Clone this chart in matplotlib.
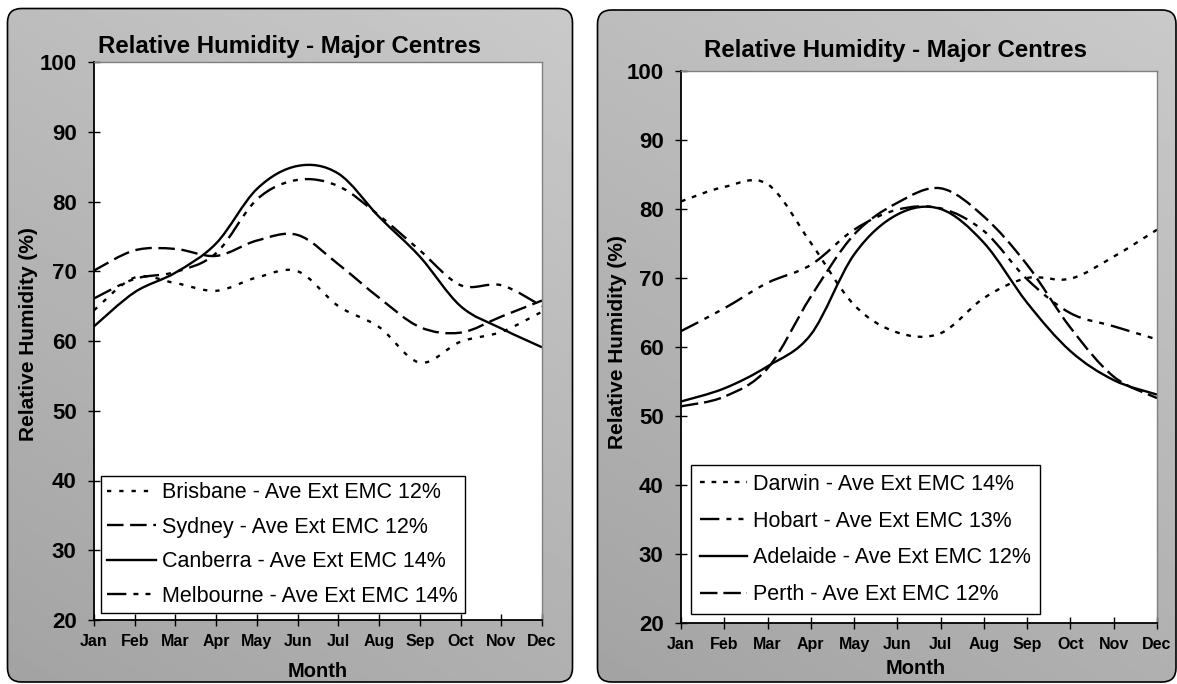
import numpy as np
import matplotlib
matplotlib.use('Agg')
import matplotlib.pyplot as plt
from matplotlib.path import Path
from matplotlib.patches import PathPatch, FancyBboxPatch
from matplotlib.lines import Line2D

plt.rcParams['font.family'] = ['Liberation Sans', 'DejaVu Sans']

# ---------------- data ----------------
months = ['Jan', 'Feb', 'Mar', 'Apr', 'May', 'Jun',
          'Jul', 'Aug', 'Sep', 'Oct', 'Nov', 'Dec']
y_ticks = [20, 30, 40, 50, 60, 70, 80, 90, 100]

# left chart
brisbane = [64.4, 69.1, 68.3, 67.2, 69.1, 70.0, 65.0, 62.0, 56.9, 59.9, 61.3, 64.2]
sydney = [70.1, 73.0, 73.2, 72.2, 74.4, 75.2, 71.0, 66.2, 62.0, 61.2, 63.5, 65.8]
canberra = [62.1, 67.0, 69.8, 74.0, 81.8, 85.1, 84.0, 77.8, 72.1, 65.0, 61.8, 59.1]
melbourne = [66.1, 68.9, 69.9, 72.6, 80.3, 83.1, 82.2, 78.0, 73.0, 68.0, 68.0, 65.0]
left_labels = ['Brisbane - Ave Ext EMC 12%', 'Sydney - Ave Ext EMC 12%',
               'Canberra - Ave Ext EMC 14%', 'Melbourne - Ave Ext EMC 14%']

# right chart
darwin = [81.1, 83.2, 83.6, 75.1, 66.1, 62.1, 62.0, 67.1, 70.0, 69.9, 73.1, 77.0]
hobart = [62.3, 65.6, 69.3, 71.9, 77.0, 79.9, 80.1, 76.8, 69.8, 64.9, 63.0, 61.1]
adelaide = [52.1, 54.0, 57.2, 61.8, 73.4, 79.2, 80.0, 75.1, 66.4, 59.4, 55.2, 53.1]
perth = [51.4, 52.8, 56.9, 67.3, 76.3, 80.9, 83.0, 78.9, 71.9, 62.8, 55.7, 52.6]
right_labels = ['Darwin - Ave Ext EMC 14%', 'Hobart - Ave Ext EMC 13%',
                'Adelaide - Ave Ext EMC 12%', 'Perth - Ave Ext EMC 12%']

title_text = 'Relative Humidity - Major Centres'
xlabel_text = 'Month'
ylabel_text = 'Relative Humidity (%)'

# ---------------- styles ----------------
LW = 1.7
ls_dot = (0, (1.8, 3.4))
ls_dash = (0, (7.0, 2.8))
ls_dashdotdot = (0, (8.2, 3.0, 2.1, 3.0, 2.1, 3.0))
ls_solid = '-'
ls_dot_r = (0, (2.0, 2.9))
ls_dash_r = (0, (7.4, 2.5))

W, H = 1177, 684
fig = plt.figure(figsize=(W / 100, H / 100), dpi=100)
fig.patch.set_facecolor('white')

bg = fig.add_axes([0, 0, 1, 1])
bg.set_axis_off()


def panel(x0, y0, x1, y1):
    clip = FancyBboxPatch((x0, y0), x1 - x0, y1 - y0,
                          boxstyle='round,pad=0,rounding_size=14',
                          facecolor='none', edgecolor='none')
    bg.add_patch(clip)
    nx, ny = 200, 200
    u = np.linspace(0, 1, nx)[None, :]
    v = np.linspace(0, 1, ny)[:, None]
    g = 0.64 + 0.10 * (1 - v) + 0.05 * u
    im = bg.imshow(g, cmap='gray', vmin=0, vmax=1, extent=(x0, x1, y1, y0),
                   interpolation='bilinear', aspect='auto', origin='upper')
    im.set_clip_path(clip)
    border = FancyBboxPatch((x0, y0), x1 - x0, y1 - y0,
                            boxstyle='round,pad=0,rounding_size=14',
                            facecolor='none', edgecolor='black', lw=1.2)
    bg.add_patch(border)


panel(7.5, 8.5, 572.5, 682)
panel(597.5, 10, 1176, 682)
bg.set_xlim(0, W)
bg.set_ylim(H, 0)


def smooth_path(xs, ys):
    pts = np.column_stack([xs, ys]).astype(float)
    n = len(pts)
    verts = [pts[0]]
    codes = [Path.MOVETO]
    for i in range(n - 1):
        p0 = pts[i - 1] if i > 0 else pts[i]
        p1 = pts[i]
        p2 = pts[i + 1]
        p3 = pts[i + 2] if i + 2 < n else pts[i + 1]
        c1 = p1 + (p2 - p0) / 6.0
        c2 = p2 - (p3 - p1) / 6.0
        verts += [c1, c2, p2]
        codes += [Path.CURVE4] * 3
    return Path(verts, codes)


def make_chart(ax_rect, series, labels, styles, leg_anchor, leg_kw,
               title_xy, xlabel_xy, ylabel_xy):
    ax = fig.add_axes(ax_rect)
    ax.set_facecolor('white')
    x = np.arange(len(months))
    handles = []
    for vals, lab, ls in zip(series, labels, styles):
        p = PathPatch(smooth_path(x, vals), facecolor='none', edgecolor='black',
                      lw=LW, linestyle=ls, capstyle='butt', joinstyle='round')
        ax.add_patch(p)
        handles.append(Line2D([], [], color='black', lw=LW, linestyle=ls,
                              dash_capstyle='butt', label=lab))
    ax.set_xlim(0, len(months) - 1)
    ax.set_ylim(20, 100)
    ax.set_yticks(y_ticks)
    ax.set_yticklabels([str(t) for t in y_ticks], fontsize=16, fontweight='bold')
    ax.set_xticks(x)
    ax.set_xticklabels(months, fontsize=11.5, fontweight='bold')
    ax.tick_params(axis='y', direction='inout', length=9, width=1, pad=8)
    ax.tick_params(axis='x', direction='inout', length=8, width=1, pad=6)
    for s in ['left', 'bottom']:
        ax.spines[s].set_color('black')
        ax.spines[s].set_linewidth(1.3)
    for s in ['top', 'right']:
        ax.spines[s].set_color('#808080')
        ax.spines[s].set_linewidth(1.0)
    ax.set_xlabel(xlabel_text, fontsize=14.5, fontweight='bold', va='center')
    ax.xaxis.set_label_coords(*xlabel_xy)
    ax.set_ylabel(ylabel_text, fontsize=15, fontweight='bold', va='center')
    ax.yaxis.set_label_coords(*ylabel_xy)
    fig.text(title_xy[0] / W, 1 - title_xy[1] / H, title_text, fontsize=17.3,
             fontweight='bold', ha='center', va='center')
    leg = ax.legend(handles=handles, loc='lower left',
                    bbox_to_anchor=leg_anchor, bbox_transform=fig.transFigure,
                    borderaxespad=0, fancybox=False, framealpha=1,
                    edgecolor='black', fontsize=15.5, handletextpad=0.3,
                    **leg_kw)
    leg.get_frame().set_linewidth(1.0)
    return ax


make_chart([94 / W, (H - 620) / H, 448 / W, 558 / H],
           [brisbane, sydney, canberra, melbourne], left_labels,
           [ls_dot, ls_dash, ls_solid, ls_dashdotdot],
           (101 / W, (H - 613) / H),
           dict(labelspacing=0.62, borderpad=0.3, handlelength=2.25),
           (290, 46), (0.5, -0.093), (-0.1473, 0.5125))

make_chart([681 / W, (H - 623) / H, 476 / W, 552 / H],
           [darwin, hobart, adelaide, perth], right_labels,
           [ls_dot_r, ls_dashdotdot, ls_solid, ls_dash_r],
           (691 / W, (H - 614) / H),
           dict(labelspacing=0.74, borderpad=0.4, handlelength=2.2),
           (896, 50), (0.493, -0.082), (-0.1324, 0.509))

fig.savefig('out.png', dpi=100, facecolor='white')
